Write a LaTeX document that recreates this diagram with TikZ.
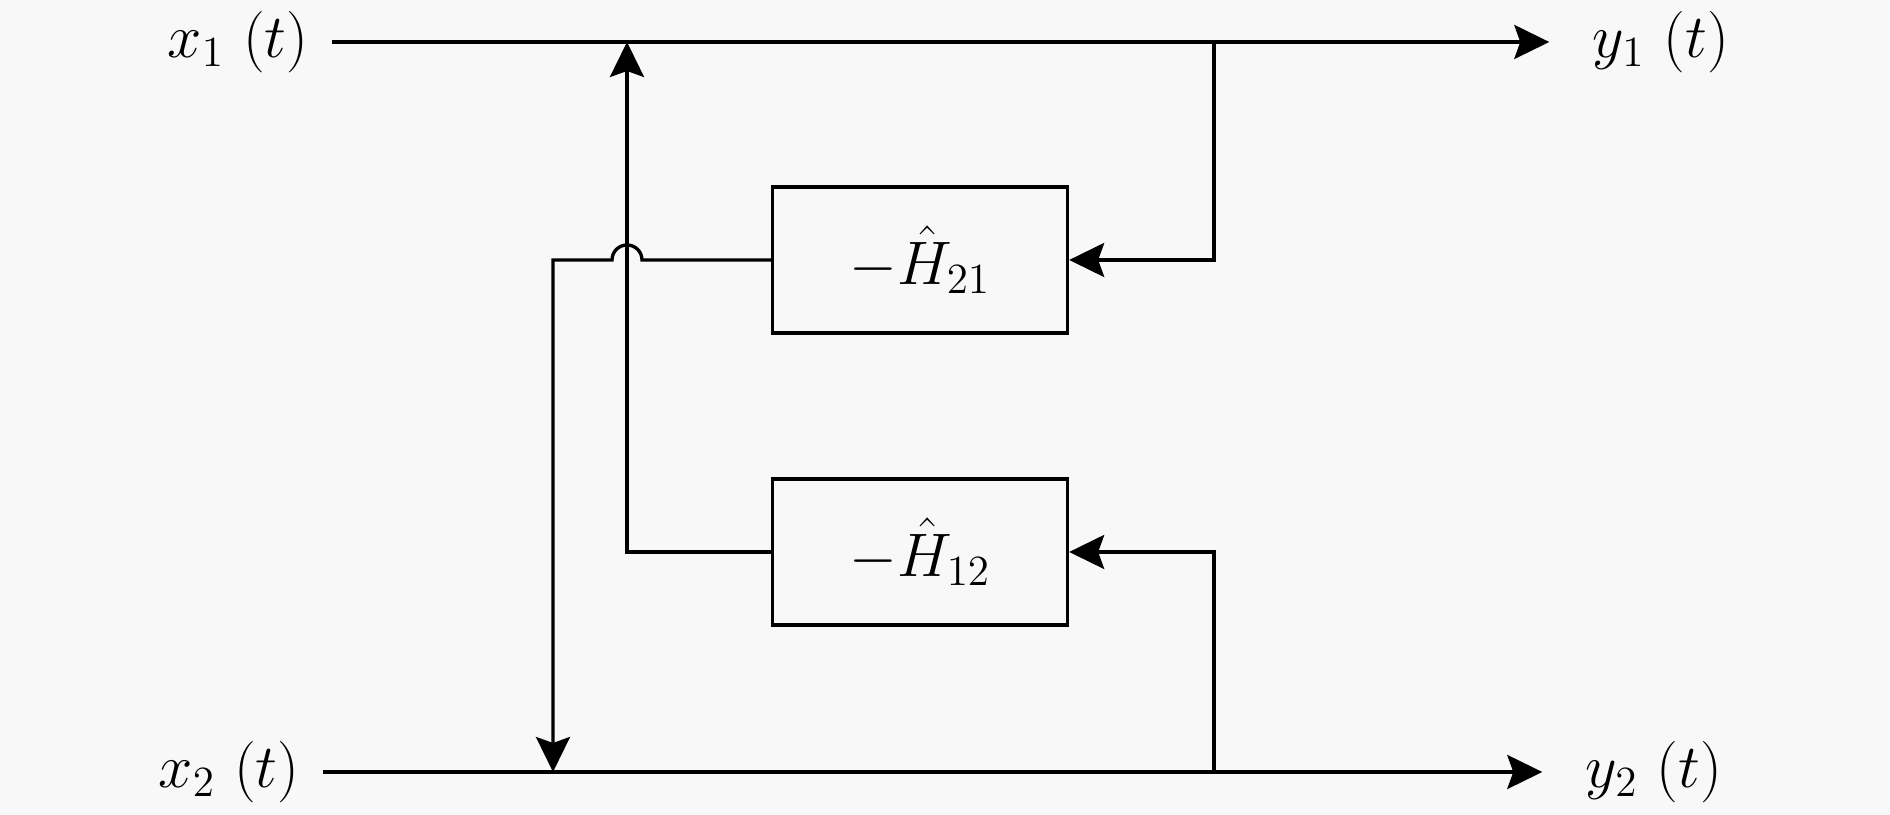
\RequirePackage{fix-cm}
\documentclass[tikz,border=0pt]{standalone}
\usepackage{amsmath}
\usetikzlibrary{arrows.meta,positioning,calc}
\definecolor{bgcol}{RGB}{248,248,248}

\begin{document}
\begin{tikzpicture}[>={Stealth[length=3.5mm,width=3.4mm,inset=0.6mm]}, line width=0.95pt, font=\fontsize{17.5}{21}\selectfont]
\tikzstyle{block}=[draw=black, minimum width=2.95cm, minimum height=1.46cm, inner sep=0pt]
\tikzstyle{sig}=[inner sep=0.22cm]
\fill[bgcol] (0,0) rectangle (18.9,8.15);
\useasboundingbox (0,0) rectangle (18.9,8.15);
\node[sig] at (2.38,7.73) (x1){$x_1\ (t)$};
\node[sig] at (16.61,7.73) (y1){$y_1\ (t)$};
\node[sig] at (2.29,0.43) (x2){$x_2\ (t)$};
\node[sig] at (16.54,0.43) (y2){$y_2\ (t)$};
\node[block] at (9.2,5.55) (h21){$-\hat{H}_{21}$};
\node[block] at (9.2,2.63) (h12){$-\hat{H}_{12}$};
\coordinate (t1) at (12.14,7.73);
\coordinate (b1) at (12.14,0.43);
\coordinate (t2) at (6.27,7.73);
\coordinate (b2) at (5.53,0.43);
 %paths
 \draw [->, shorten >=0.2cm] (x1) -- (y1);
 \draw [->, shorten >=0.2cm] (x2) -- (y2);
 \draw [->] (t1) |- (h21.east);
 \draw [->] (b1) |- (h12.east);
 \draw [->] (h12.west) -| (t2);
 %hop
 \draw [->] (h21.west) -- ($(t2|-h21.west)+(0.15,0)$) arc (0:180:0.15) -- (b2|-h21.west) -- (b2);
\end{tikzpicture}
\end{document}
